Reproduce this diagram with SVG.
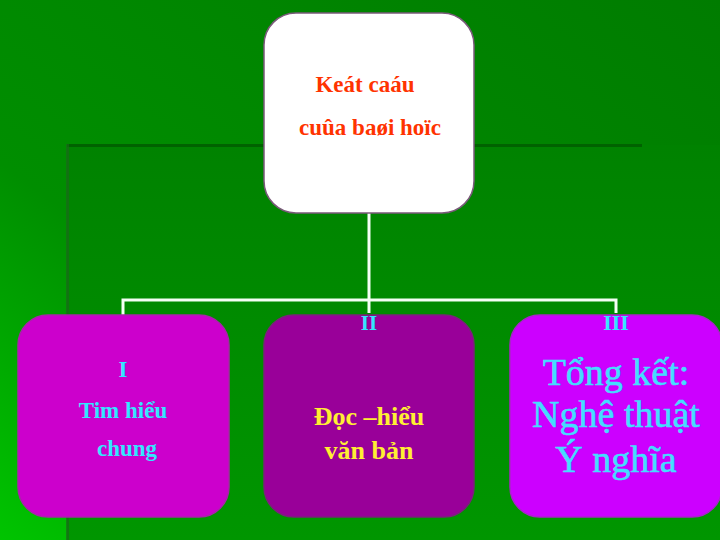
<svg xmlns="http://www.w3.org/2000/svg" width="720" height="540" viewBox="0 0 720 540">
  <defs>
    <linearGradient id="bg" x1="1" y1="0" x2="0" y2="1">
      <stop offset="0" stop-color="#007c00"/>
      <stop offset="0.65" stop-color="#008e00"/>
      <stop offset="1" stop-color="#00c400"/>
    </linearGradient>
    <linearGradient id="inner" x1="0" y1="0" x2="0" y2="1">
      <stop offset="0" stop-color="#008200"/>
      <stop offset="1" stop-color="#009600"/>
    </linearGradient>
    <style>
      .conn { stroke: #f4fff4; stroke-width: 3; fill: none; }
      .box { stroke-width: 1.5; }
      .top { font-family: "Liberation Serif", "DejaVu Serif", serif; font-weight: bold; font-size: 23px; fill: #ff3300; text-anchor: middle; }
      .num { font-family: "Liberation Serif", "DejaVu Serif", serif; font-weight: bold; fill: #33e6ff; text-anchor: middle; }
      .t1 { font-family: "Liberation Serif", "DejaVu Serif", serif; font-weight: bold; font-size: 23px; fill: #33e6ff; text-anchor: middle; }
      .t2 { font-family: "Liberation Serif", "DejaVu Serif", serif; font-weight: bold; font-size: 26px; fill: #ffee33; text-anchor: middle; }
      .t3 { font-family: "Liberation Serif", "DejaVu Serif", serif; font-size: 38px; fill: #44ddff; text-anchor: middle; stroke: #44ddff; stroke-width: 0.6; }
    </style>
  </defs>

  <g id="background">
    <rect x="0" y="0" width="720" height="540" fill="url(#bg)"/>
    <rect x="67" y="145" width="653" height="395" fill="url(#inner)"/>
    <rect x="67" y="144" width="575" height="3" fill="#006200"/>
    <rect x="66" y="144" width="3" height="396" fill="#1a6a1a" opacity="0.7"/>
  </g>

  <g id="connectors">
    <path class="conn" d="M369,213 V300"/>
    <path class="conn" d="M123,315 V300 H616 V313"/>
    <path class="conn" d="M369,300 V313"/>
  </g>

  <g id="node-root">
    <rect class="box" x="264" y="13" width="210" height="200" rx="32" fill="#ffffff" stroke="#7a5a7a"/>
    <text class="top" x="365" y="92">Keát caáu</text>
    <text class="top" x="370" y="135">cuûa baøi hoïc</text>
  </g>

  <g id="node-1">
    <rect class="box" x="18" y="315" width="211" height="202" rx="30" fill="#cc00cc" stroke="#aa22aa"/>
    <text class="num" x="123" y="377" font-size="23">I</text>
    <text class="t1" x="123" y="418">Tim hiểu</text>
    <text class="t1" x="127" y="456">chung</text>
  </g>

  <g id="node-2">
    <rect class="box" x="264" y="315" width="210" height="202" rx="30" fill="#990099" stroke="#7a227a"/>
    <text class="num" x="369" y="330" font-size="21">II</text>
    <text class="t2" x="369" y="425">Đọc –hiểu</text>
    <text class="t2" x="369" y="459">văn bản</text>
  </g>

  <g id="node-3">
    <rect class="box" x="510" y="315" width="212" height="202" rx="30" fill="#cc00ff" stroke="#aa22cc"/>
    <text class="num" x="616" y="330" font-size="22">III</text>
    <text class="t3" x="616" y="385">Tổng kết:</text>
    <text class="t3" x="616" y="427">Nghệ thuật</text>
    <text class="t3" x="616" y="472">Ý nghĩa</text>
  </g>
</svg>
